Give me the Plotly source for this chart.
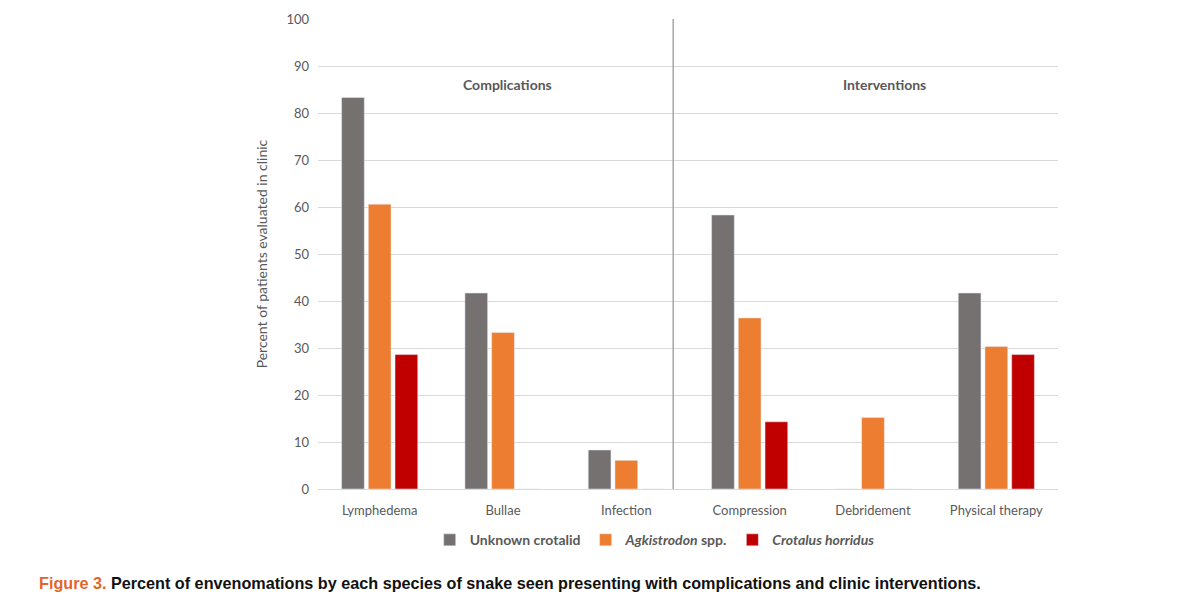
import plotly.graph_objects as go

categories = ["Lymphedema", "Bullae", "Infection", "Compression", "Debridement", "Physical therapy"]
unknown_crotalid = [83.3, 41.7, 8.3, 58.3, 0, 41.7]
agkistrodon = [60.6, 33.3, 6.1, 36.4, 15.2, 30.3]
crotalus = [28.6, 0, 0, 14.3, 0, 28.6]
y_ticks = [0, 10, 20, 30, 40, 50, 60, 70, 80, 90, 100]
group_labels = ["Complications", "Interventions"]

FONT = "Lato, Open Sans, sans-serif"
TXT = "#595959"

W, H = 1192, 603
ML, MR, MT, MB = 310, 142, 11, 122

fig = go.Figure()
fig.add_trace(go.Bar(x=categories, y=unknown_crotalid, name="<b>Unknown crotalid</b>", marker_color="#767171"))
fig.add_trace(go.Bar(x=categories, y=agkistrodon, name="<b><i>Agkistrodon</i> spp.</b>", marker_color="#ED7D31"))
fig.add_trace(go.Bar(x=categories, y=crotalus, name="<b><i>Crotalus horridus</i></b>", marker_color="#C00000"))

fig.add_shape(type="line", xref="x", yref="paper", x0=2.38, x1=2.38, y0=0, y1=1,
              line=dict(color="#A6A6A6", width=1.5))

fig.add_annotation(x=1.04, y=86, xref="x", yref="y", text="<b>" + group_labels[0] + "</b>",
                   showarrow=False, font=dict(family=FONT, size=14, color=TXT))
fig.add_annotation(x=4.09, y=86, xref="x", yref="y", text="<b>" + group_labels[1] + "</b>",
                   showarrow=False, font=dict(family=FONT, size=14, color=TXT))

plot_w = W - ML - MR
plot_h = H - MT - MB
cap_x = (37 - 8 - ML) / plot_w
cap_y = (H - MB - (583 - 8)) / plot_h
fig.add_annotation(x=cap_x, y=cap_y, xref="paper", yref="paper", xanchor="left", yanchor="middle",
                   text="<b><span style='color:#E0672B'>Figure 3.</span> Percent of envenomations by each species of snake seen presenting with complications and clinic interventions.</b>",
                   showarrow=False,
                   font=dict(family="Liberation Sans Narrow, Arial Narrow, sans-serif", size=16.2, color="#111111"))

fig.update_layout(
    width=W, height=H,
    paper_bgcolor="white", plot_bgcolor="white",
    margin=dict(l=ML, r=MR, t=MT, b=MB, autoexpand=False),
    barmode="group", bargap=0.35, bargroupgap=0.15,
    font=dict(family=FONT, size=13, color=TXT),
    legend=dict(orientation="h", x=0.455, xanchor="center", y=-0.075, yanchor="top",
                font=dict(family=FONT, size=14, color=TXT), itemwidth=30),
    showlegend=True,
)
fig.update_xaxes(showline=False, ticks="", ticklabelstandoff=12, automargin=False,
                 tickfont=dict(family=FONT, size=13, color=TXT))
fig.update_yaxes(range=[0, 100], tickvals=y_ticks, showgrid=True, gridcolor="#D9D9D9", gridwidth=1,
                 zeroline=True, zerolinecolor="#D9D9D9", zerolinewidth=1,
                 ticks="", ticklabelstandoff=8, automargin=False,
                 title=dict(text="Percent of patients evaluated in clinic", standoff=15,
                            font=dict(family=FONT, size=14, color=TXT)),
                 tickfont=dict(family=FONT, size=13, color=TXT))

fig.write_html("out.html")
